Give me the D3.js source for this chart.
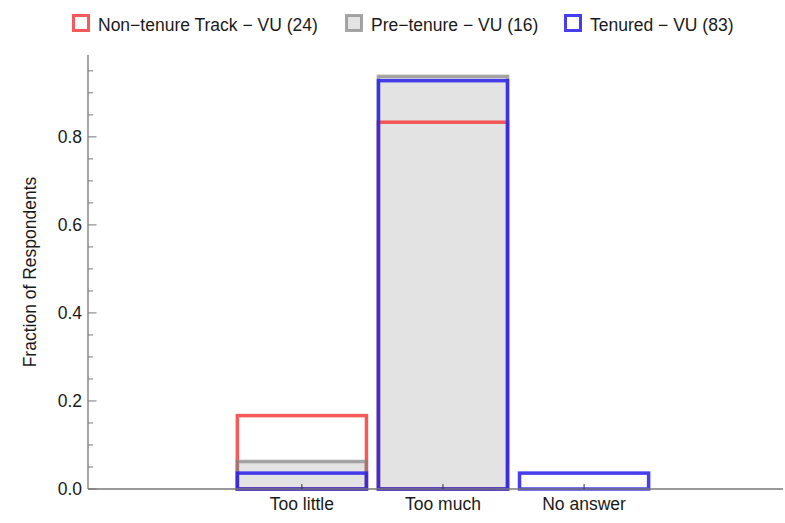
<!DOCTYPE html>
<html>
<head>
<meta charset="utf-8">
<title>Fraction of Respondents</title>
<style>
  body { margin: 0; background: #fff; }
  svg { display: block; font-family: "Liberation Sans", Arial, sans-serif; }
</style>
</head>
<body>
<div id="chart"></div>
<script src="https://d3js.org/d3.v7.min.js"></script>
<script>
// data
var categories = ["Too little", "Too much", "No answer"];
var seriesNames = ["Non\u2212tenure Track \u2212 VU (24)", "Pre\u2212tenure \u2212 VU (16)", "Tenured \u2212 VU (83)"];
var nonTenure = [0.1667, 0.8333, 0];
var preTenure = [0.0625, 0.9375, 0];
var tenured   = [0.0361, 0.9277, 0.0361];
var yTicks = [0, 0.2, 0.4, 0.6, 0.8];

var width = 785, height = 523;
var fontSize = "17.5px";

var styles = [
  { stroke: "rgba(245,60,60,0.85)", fill: "none", legendFill: "#fff" },
  { stroke: "rgba(130,130,130,0.7)", fill: "#e3e3e3", legendFill: "#e3e3e3" },
  { stroke: "rgba(45,35,235,0.88)", fill: "none", legendFill: "#fff" }
];
var seriesValues = [nonTenure, preTenure, tenured];

var svg = d3.select("#chart").append("svg")
  .attr("width", width)
  .attr("height", height);

// bars sit at 1, 2, 3 on a linear scale like the original
var x = d3.scaleLinear().domain([-0.516, 4.41]).range([88, 783]);
var y = d3.scaleLinear().domain([0, 0.986]).range([489, 55]);
var barW = 0.915;

function barData(vals) {
  return vals.map(function(v, i) { return { v: v, i: i }; }).filter(function(d) { return d.v > 0; });
}
function placeBar(sel) {
  sel.attr("x", function(d) { return x(d.i + 1 - barW / 2); })
    .attr("width", function(d) { return x(d.i + 1 + barW / 2) - x(d.i + 1 - barW / 2); })
    .attr("y", function(d) { return y(d.v); })
    .attr("height", function(d) { return y(0) - y(d.v); });
}

// fills go underneath, then the outlines on top
seriesValues.forEach(function(vals, s) {
  if (styles[s].fill === "none") return;
  svg.append("g").selectAll("rect").data(barData(vals)).enter().append("rect")
    .call(placeBar)
    .style("fill", styles[s].fill)
    .style("stroke", "none");
});
seriesValues.forEach(function(vals, s) {
  svg.append("g").selectAll("rect").data(barData(vals)).enter().append("rect")
    .call(placeBar)
    .style("fill", "none")
    .style("stroke", styles[s].stroke)
    .style("stroke-width", 3.5);
});

// y axis with minor ticks
var yMinor = d3.range(0, 0.96, 0.05).filter(function(t) {
  return Math.abs(t * 5 - Math.round(t * 5)) > 1e-6;
});
var yAxis = svg.append("g").attr("transform", "translate(88,0)");
yAxis.append("line").attr("x1", 0).attr("x2", 0).attr("y1", 55).attr("y2", 489)
  .style("stroke", "#777").style("stroke-width", 1.3);
yAxis.selectAll(".major").data(yTicks).enter().append("line")
  .attr("x1", 0).attr("x2", 8.5)
  .attr("y1", function(d) { return y(d); }).attr("y2", function(d) { return y(d); })
  .style("stroke", "#777");
yAxis.selectAll(".minor").data(yMinor).enter().append("line")
  .attr("x1", 0).attr("x2", 5)
  .attr("y1", function(d) { return y(d); }).attr("y2", function(d) { return y(d); })
  .style("stroke", "#777");
yAxis.selectAll("text").data(yTicks).enter().append("text")
  .attr("x", -6).attr("y", function(d) { return y(d) + 6; })
  .attr("text-anchor", "end")
  .style("font-size", fontSize).style("fill", "#1a1a1a")
  .text(d3.format(".1f"));

// x axis
var xAxis = svg.append("g");
xAxis.append("line").attr("x1", 88).attr("x2", 783).attr("y1", 489).attr("y2", 489)
  .style("stroke", "#777").style("stroke-width", 1.3);
xAxis.selectAll(".tick").data(categories).enter().append("line")
  .attr("x1", function(d, i) { return x(i + 1); }).attr("x2", function(d, i) { return x(i + 1); })
  .attr("y1", 489).attr("y2", 484)
  .style("stroke", "#333");
xAxis.selectAll("text").data(categories).enter().append("text")
  .attr("x", function(d, i) { return x(i + 1); }).attr("y", 510)
  .attr("text-anchor", "middle")
  .style("font-size", fontSize).style("fill", "#1a1a1a")
  .text(function(d) { return d; });

// y title
svg.append("text")
  .attr("transform", "translate(36,272) rotate(-90)")
  .attr("text-anchor", "middle")
  .style("font-size", fontSize).style("fill", "#1a1a1a")
  .text("Fraction of Respondents");

// legend
var legendX = [72, 345, 564];
var legend = svg.append("g").selectAll("g").data(seriesNames).enter().append("g")
  .attr("transform", function(d, i) { return "translate(" + legendX[i] + ",14)"; });
legend.append("rect")
  .attr("x", 1.5).attr("y", 1.5).attr("width", 15).attr("height", 15)
  .style("fill", function(d, i) { return styles[i].legendFill; })
  .style("stroke", function(d, i) { return styles[i].stroke; })
  .style("stroke-width", 3);
legend.append("text")
  .attr("x", 26).attr("y", 17)
  .style("font-size", fontSize).style("fill", "#1a1a1a")
  .text(function(d) { return d; });
</script>
</body>
</html>
